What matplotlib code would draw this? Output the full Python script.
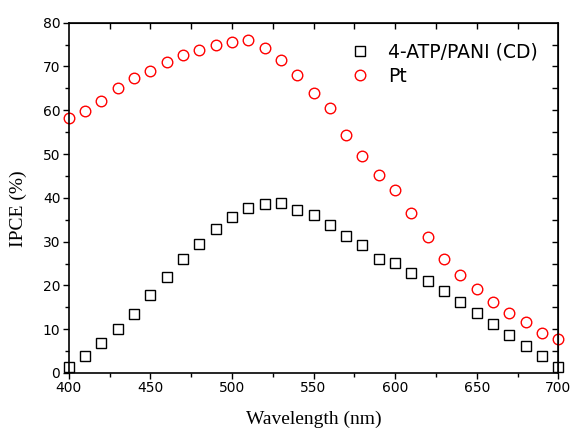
import matplotlib
matplotlib.use("Agg")

import numpy as np
import matplotlib.pyplot as plt
from matplotlib.ticker import MultipleLocator

wavelength = np.arange(400, 701, 10)

ipce_cd = [1.4, 3.9, 6.8, 10.0, 13.4, 17.7, 22.0, 26.0, 29.4, 32.8,
           35.6, 37.6, 38.6, 38.8, 37.2, 36.0, 33.7, 31.3, 29.2, 26.0,
           25.1, 22.9, 20.9, 18.7, 16.1, 13.7, 11.1, 8.6, 6.2, 3.9, 1.4]
ipce_pt = [58.2, 59.8, 62.1, 65.0, 67.4, 68.9, 71.1, 72.6, 73.8, 75.0,
           75.6, 76.1, 74.3, 71.5, 68.0, 63.9, 60.6, 54.4, 49.6, 45.3,
           41.7, 36.6, 31.0, 26.0, 22.3, 19.1, 16.2, 13.8, 11.6, 9.1, 7.7]

labels = ["4-ATP/PANI (CD)", "Pt"]

plt.rcParams.update({
    "font.family": "DejaVu Sans",
    "font.size": 10,
})

fig = plt.figure(figsize=(5.74, 4.30), dpi=100)
ax = fig.add_axes([0.1197, 0.1326, 0.853, 0.8146])

ax.plot(wavelength, ipce_cd, ls="none", marker="s", ms=7.2, mfc="none",
        mec="black", mew=1.0, label=labels[0], clip_on=False)
ax.plot(wavelength, ipce_pt, ls="none", marker="o", ms=7.6, mfc="none",
        mec="#ff0000", mew=1.0, label=labels[1], clip_on=False)

ax.set_xlim(400, 700)
ax.set_ylim(0, 80)
ax.xaxis.set_major_locator(MultipleLocator(50))
ax.xaxis.set_minor_locator(MultipleLocator(25))
ax.yaxis.set_major_locator(MultipleLocator(10))
ax.yaxis.set_minor_locator(MultipleLocator(5))

ax.tick_params(which="both", direction="out", top=False, right=False,
               width=1.0, labelsize=10, pad=2)
ax.tick_params(which="major", length=4)
ax.tick_params(which="minor", length=3)

# inward ticks on the top and right frame
top = ax.secondary_xaxis("top")
top.set_xticks(np.arange(425, 700, 25))
top.tick_params(direction="in", length=4, width=1.0, labeltop=False)
right = ax.secondary_yaxis("right")
right.set_yticks(np.arange(5, 80, 5))
right.tick_params(direction="in", length=4, width=1.0, labelright=False)

for sp in ax.spines.values():
    sp.set_linewidth(1.2)

ax.set_xlabel("Wavelength (nm)", family="Liberation Serif", fontsize=14, labelpad=11)
ax.set_ylabel("IPCE (%)", family="Liberation Serif", fontsize=14)
ax.yaxis.set_label_coords(-0.085, 0.47)

ax.legend(loc="upper right", bbox_to_anchor=(0.985, 0.98), frameon=False,
          fontsize=13.5, handletextpad=1.0, labelspacing=0.25, borderpad=0.2,
          handlelength=1.0)

fig.savefig("out.png", dpi=100)
